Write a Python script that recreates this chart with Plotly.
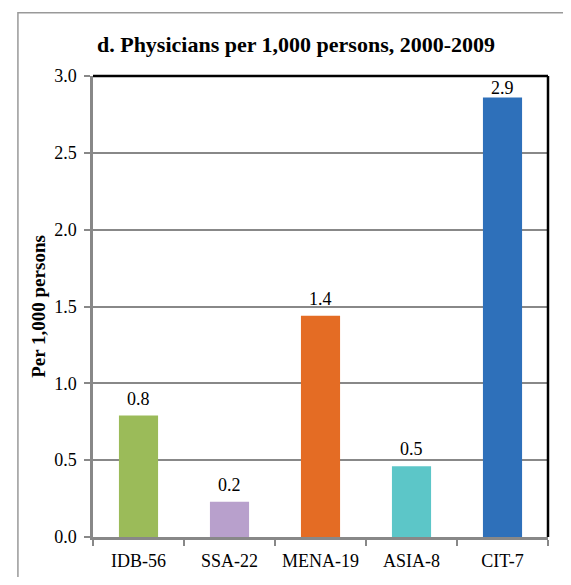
import plotly.graph_objects as go

# Data
regions = ["IDB-56", "SSA-22", "MENA-19", "ASIA-8", "CIT-7"]
physicians = [0.79, 0.23, 1.44, 0.46, 2.86]
bar_colors = ["#9BBB59", "#B8A0CC", "#E46C24", "#5CC6C8", "#2E70BA"]

serif = "Liberation Serif"

fig = go.Figure()

fig.add_trace(
    go.Bar(
        x=regions,
        y=physicians,
        marker=dict(color=bar_colors, line=dict(width=0)),
        width=0.43,
        showlegend=False,
    )
)

# Value labels above the bars (pulled down when close to the top of the axis)
for reg, val in zip(regions, physicians):
    fig.add_annotation(
        x=reg,
        y=val,
        text=f"{val:.1f}",
        showarrow=False,
        yanchor="middle",
        yshift=10 if val > 2.8 else 17,
        font=dict(family=serif, size=18, color="black"),
    )

# Black frame on top and right of the plot area
fig.add_shape(type="line", xref="paper", yref="paper", x0=0, x1=1, y0=1, y1=1,
              line=dict(color="black", width=2.5))
fig.add_shape(type="line", xref="paper", yref="paper", x0=1, x1=1, y0=0, y1=1,
              line=dict(color="black", width=2.5))

# Outer chart border (only left and top visible)
fig.add_shape(type="rect", xref="paper", yref="paper",
              x0=-0.165, x1=1.5, y0=-0.5, y1=1.137,
              line=dict(color="#999999", width=1.5), layer="below")

fig.update_layout(
    width=555,
    height=569,
    margin=dict(l=85, r=15, t=68, b=40),
    paper_bgcolor="white",
    plot_bgcolor="white",
    bargap=0.57,
    title=dict(
        text="<b>d. Physicians per 1,000 persons, 2000-2009</b>",
        font=dict(family=serif, size=22, color="black"),
        x=288 / 555,
        xanchor="center",
        xref="container",
        y=1 - 36 / 569,
        yanchor="middle",
    ),
    xaxis=dict(
        automargin=False,
        tickson="boundaries",
        ticks="outside",
        ticklen=6,
        tickwidth=2,
        tickcolor="#888888",
        ticklabelstandoff=6,
        showline=True,
        linecolor="#888888",
        linewidth=2.5,
        showgrid=False,
        tickfont=dict(family=serif, size=18, color="black"),
    ),
    yaxis=dict(
        automargin=False,
        range=[0, 3.0],
        dtick=0.5,
        tickformat=".1f",
        ticks="outside",
        ticklen=6,
        tickwidth=2,
        tickcolor="#888888",
        ticklabelstandoff=4,
        showline=True,
        linecolor="#888888",
        linewidth=2.5,
        showgrid=True,
        gridcolor="#888888",
        gridwidth=1.8,
        zeroline=False,
        tickfont=dict(family=serif, size=18, color="black"),
        title=dict(
            text="<b>Per 1,000 persons</b>",
            font=dict(family=serif, size=19, color="black"),
            standoff=4,
        ),
    ),
)

fig.write_html("out.html")
